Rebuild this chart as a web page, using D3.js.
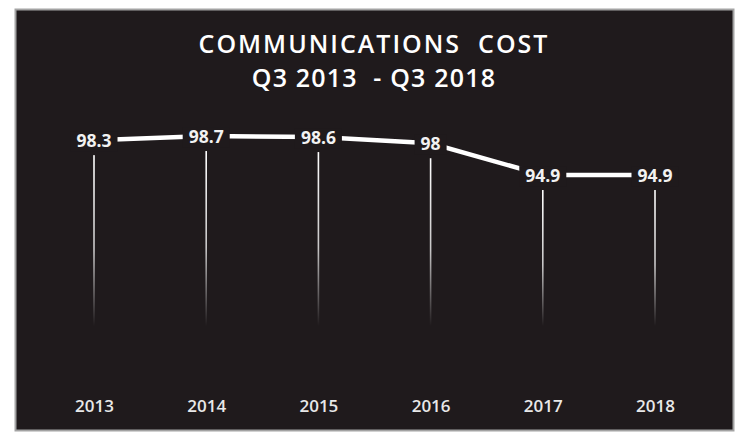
<!DOCTYPE html>
<html>
<head>
<meta charset="utf-8">
<script src="https://cdn.jsdelivr.net/npm/d3@7"></script>
<style>
  body { margin: 0; background: #fff; }
  svg { display: block; font-family: "Open Sans", sans-serif; }
</style>
</head>
<body>
<div id="chart"></div>
<script>
// data
var years = ['2013', '2014', '2015', '2016', '2017', '2018'];
var cost = [98.3, 98.7, 98.6, 98.0, 94.9, 94.9];
var titleLines = ['COMMUNICATIONS  COST', 'Q3 2013  - Q3 2018'];

var width = 750, height = 441;
var bg = '#1f1a1c';

var svg = d3.select('#chart').append('svg')
    .attr('width', width)
    .attr('height', height);

// panel
svg.append('rect')
    .attr('x', 15.5).attr('y', 9.5)
    .attr('width', 718).attr('height', 421)
    .attr('fill', bg)
    .attr('stroke', '#a3a3a3')
    .attr('stroke-width', 2);

var defs = svg.append('defs');
var grad = defs.append('linearGradient')
    .attr('id', 'fade')
    .attr('x1', 0).attr('y1', 0).attr('x2', 0).attr('y2', 1);
grad.append('stop').attr('offset', '0%').attr('stop-color', '#fff').attr('stop-opacity', 1);
grad.append('stop').attr('offset', '55%').attr('stop-color', '#fff').attr('stop-opacity', 0.75);
grad.append('stop').attr('offset', '100%').attr('stop-color', '#fff').attr('stop-opacity', 0);

var x = d3.scalePoint()
    .domain(years)
    .range([94, 655]);
var y = d3.scaleLinear()
    .domain([90, 100])
    .range([226.3, 123.7]);

// title
svg.selectAll('.title')
    .data(titleLines)
    .enter().append('text')
    .attr('class', 'title')
    .attr('x', 374)
    .attr('y', function(d, i) { return 53 + i * 34; })
    .attr('text-anchor', 'middle')
    .attr('fill', '#fff')
    .attr('font-size', 25)
    .attr('font-weight', 600)
    .attr('letter-spacing', function(d, i) { return i ? 1.2 : 2; })
    .style('white-space', 'pre')
    .text(function(d) { return d; });

// fading drop lines
var dropEnd = 326;
svg.selectAll('.drop')
    .data(cost)
    .enter().append('rect')
    .attr('class', 'drop')
    .attr('x', function(d, i) { return x(years[i]) - 0.8; })
    .attr('y', function(d) { return y(d) + 14; })
    .attr('width', 1.6)
    .attr('height', function(d) { return dropEnd - (y(d) + 14); })
    .attr('fill', 'url(#fade)');

// line
var line = d3.line()
    .x(function(d, i) { return x(years[i]); })
    .y(function(d) { return y(d) - 1; });
svg.append('path')
    .datum(cost)
    .attr('d', line)
    .attr('fill', 'none')
    .attr('stroke', '#fff')
    .attr('stroke-width', 4.5);

// value labels with gaps cut in the line
var labels = svg.selectAll('.val')
    .data(cost)
    .enter().append('g')
    .attr('class', 'val')
    .attr('transform', function(d, i) { return 'translate(' + x(years[i]) + ',' + y(d) + ')'; });
labels.append('text')
    .attr('text-anchor', 'middle')
    .attr('y', 6)
    .attr('fill', '#f2f2f2')
    .attr('font-size', 17.5)
    .attr('font-weight', 700)
    .text(function(d) { return d3.format('')(d); })
    .each(function() {
        var b = this.getBBox();
        d3.select(this.parentNode).insert('rect', 'text')
            .attr('x', b.x - 6)
            .attr('y', -10)
            .attr('width', b.width + 12)
            .attr('height', 20)
            .attr('fill', bg);
    });

// year axis
var axis = svg.append('g')
    .attr('transform', 'translate(0,412)')
    .call(d3.axisBottom(x).tickSize(0).tickPadding(0));
axis.select('.domain').remove();
axis.selectAll('text')
    .attr('dy', 0)
    .attr('fill', '#e8e8e8')
    .attr('font-family', '"Open Sans", sans-serif')
    .attr('font-size', 17)
    .attr('font-weight', 600);
</script>
</body>
</html>
